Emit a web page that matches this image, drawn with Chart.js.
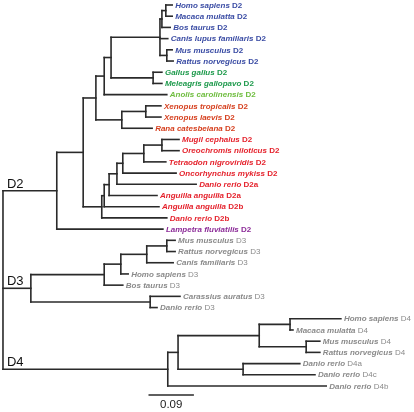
<!DOCTYPE html>
<html>
<head>
<meta charset="utf-8">
<script src="https://cdn.jsdelivr.net/npm/chart.js@4"></script>
<style>
  html, body { margin: 0; padding: 0; background: #fff; }
  #wrap { width: 414px; height: 412px; }
</style>
</head>
<body>
<div id="wrap"><canvas id="tree"></canvas></div>
<script>
// leaves, top to bottom (leaf id = index)
const species = [
  'Homo sapiens', 'Macaca mulatta', 'Bos taurus', 'Canis lupus familiaris', 'Mus musculus', 'Rattus norvegicus',
  'Gallus gallus', 'Meleagris gallopavo', 'Anolis carolinensis',
  'Xenopus tropicalis', 'Xenopus laevis', 'Rana catesbeiana',
  'Mugil cephalus', 'Oreochromis niloticus', 'Tetraodon nigroviridis', 'Oncorhynchus mykiss',
  'Danio rerio', 'Anguilla anguilla', 'Anguilla anguilla', 'Danio rerio',
  'Lampetra fluviatilis',
  'Mus musculus', 'Rattus norvegicus', 'Canis familiaris', 'Homo sapiens', 'Bos taurus',
  'Carassius auratus', 'Danio rerio',
  'Homo sapiens', 'Macaca mulatta', 'Mus musculus', 'Rattus norvegicus',
  'Danio rerio', 'Danio rerio', 'Danio rerio'
];
const genes = [
  'D2', 'D2', 'D2', 'D2', 'D2', 'D2', 'D2', 'D2', 'D2', 'D2', 'D2', 'D2',
  'D2', 'D2', 'D2', 'D2', 'D2a', 'D2a', 'D2b', 'D2b', 'D2',
  'D3', 'D3', 'D3', 'D3', 'D3', 'D3', 'D3',
  'D4', 'D4', 'D4', 'D4', 'D4a', 'D4c', 'D4b'
];
const groups = [
  'mammal', 'mammal', 'mammal', 'mammal', 'mammal', 'mammal',
  'bird', 'bird', 'reptile', 'amphibian', 'amphibian', 'amphibian',
  'teleost', 'teleost', 'teleost', 'teleost', 'teleost', 'teleost', 'teleost', 'teleost',
  'lamprey',
  'D3', 'D3', 'D3', 'D3', 'D3', 'D3', 'D3',
  'D4', 'D4', 'D4', 'D4', 'D4', 'D4', 'D4'
];
// distance from root to each tip
const tipDepth = [
  0.346, 0.346, 0.342, 0.337, 0.346, 0.348,
  0.325, 0.325, 0.335, 0.323, 0.323, 0.305,
  0.360, 0.360, 0.333, 0.354, 0.395, 0.315, 0.319, 0.335,
  0.327,
  0.352, 0.352, 0.348, 0.256, 0.245, 0.362, 0.315,
  0.691, 0.593, 0.648, 0.648, 0.607, 0.638, 0.661
];
// internal nodes get ids 35, 36, ... ; children are leaf ids or node ids
const nodeDepth = [
  0.333, 0.325, 0.335, 0.321, 0.307, 0.221, 0.207, 0.292, 0.243, 0.190,
  0.325, 0.288, 0.245, 0.233, 0.217, 0.207, 0.202, 0.164, 0.110,
  0.335, 0.294, 0.241, 0.207, 0.301, 0.057,
  0.587, 0.620, 0.524, 0.491, 0.358, 0.337,
  0
];
const nodeKids = [
  [0, 1], [35, 2], [4, 5], [36, 3, 37], [6, 7], [38, 39], [40, 8], [9, 10], [42, 11], [41, 43],
  [12, 13], [45, 14], [46, 15], [47, 16], [48, 17], [49, 18], [50, 19], [44, 51], [52, 20],
  [21, 22], [54, 23], [55, 24], [56, 25], [26, 27], [57, 58],
  [28, 29], [30, 31], [60, 61], [32, 33], [62, 63], [64, 34],
  [53, 59, 65]
];
const paralogNodes = [53, 59, 65];
const paralogNames = ['D2', 'D3', 'D4'];
const scaleBarValue = 0.09;

const groupColor = {
  mammal: '#3a4ca4', bird: '#1e9a4c', reptile: '#6fbd3f', amphibian: '#d6401f',
  teleost: '#e5232d', lamprey: '#8c2c98', D3: '#8a8a8a', D4: '#8a8a8a'
};
const FONT = '"Liberation Sans", Arial, sans-serif';
const LINE = '#2a2a2a';

const nLeaf = species.length;
const depthOf = id => id < nLeaf ? tipDepth[id] : nodeDepth[id - nLeaf];
const yMemo = {};
function yOf(id) {
  if (id < nLeaf) return id;
  if (yMemo[id] == null) {
    const k = nodeKids[id - nLeaf];
    yMemo[id] = (yOf(k[0]) + yOf(k[k.length - 1])) / 2;
  }
  return yMemo[id];
}

function seg(points, width) {
  return {
    data: points, showLine: true, borderColor: LINE, borderWidth: width || 1.6,
    pointRadius: 0, borderCapStyle: 'square', fill: false
  };
}

const datasets = [];
nodeKids.forEach((kids, i) => {
  const x = nodeDepth[i];
  datasets.push(seg([{ x, y: yOf(kids[0]) }, { x, y: yOf(kids[kids.length - 1]) }]));
  kids.forEach(k => datasets.push(seg([{ x, y: yOf(k) }, { x: depthOf(k), y: yOf(k) }])));
});
const barStart = 0.299, barY = 34.8;
datasets.push(seg([{ x: barStart, y: barY }, { x: barStart + scaleBarValue, y: barY }], 1.4));

const treeLabels = {
  id: 'treeLabels',
  afterDatasetsDraw(chart) {
    const { ctx, scales: { x, y } } = chart;
    ctx.save();
    ctx.textBaseline = 'middle';
    ctx.textAlign = 'left';
    species.forEach((name, i) => {
      let px = x.getPixelForValue(tipDepth[i]) + 3;
      const py = y.getPixelForValue(i) + 0.5;
      ctx.fillStyle = groupColor[groups[i]];
      ctx.font = 'italic bold 8px ' + FONT;
      ctx.fillText(name, px, py);
      px += ctx.measureText(name + ' ').width;
      ctx.font = (genes[i].startsWith('D2') ? 'bold ' : '') + '8px ' + FONT;
      ctx.fillText(genes[i], px, py);
    });
    ctx.fillStyle = '#111';
    ctx.font = '13px ' + FONT;
    ctx.textBaseline = 'alphabetic';
    paralogNodes.forEach((id, i) => {
      ctx.fillText(paralogNames[i], x.getPixelForValue(0) + 4, y.getPixelForValue(yOf(id)) - 3);
    });
    ctx.font = '11.5px ' + FONT;
    ctx.textAlign = 'center';
    ctx.fillStyle = '#222';
    ctx.fillText(String(scaleBarValue), x.getPixelForValue(barStart + scaleBarValue / 2), y.getPixelForValue(barY) + 13);
    ctx.restore();
  }
};

new Chart(document.getElementById('tree'), {
  type: 'scatter',
  data: { datasets },
  options: {
    responsive: true,
    maintainAspectRatio: false,
    animation: false,
    devicePixelRatio: 1,
    layout: { padding: 0 },
    scales: {
      x: { type: 'linear', display: false, min: -0.0061, max: 0.8405 },
      y: { type: 'linear', display: false, reverse: true, min: -0.446, max: 36.32 }
    },
    plugins: { legend: { display: false }, tooltip: { enabled: false } }
  },
  plugins: [treeLabels]
});
</script>
</body>
</html>
